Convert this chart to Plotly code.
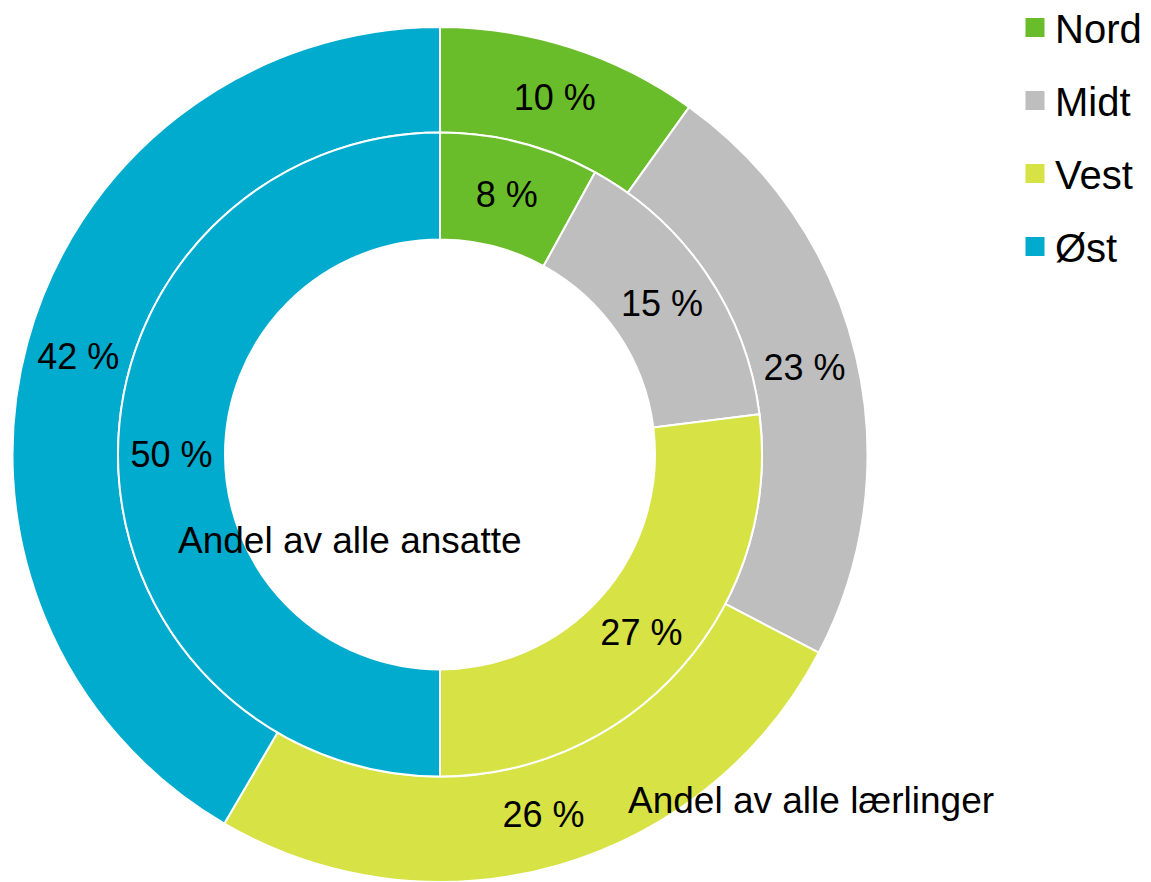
import plotly.graph_objects as go

# Regional shares, in percent
regions = ["Nord", "Midt", "Vest", "Øst"]
apprentices_pct = [10, 23, 26, 42]   # outer ring: share of all apprentices
employees_pct = [8, 15, 27, 50]      # inner ring: share of all employees

colors = ["#6ABD2A", "#BEBEBE", "#D7E244", "#00ABCE"]
font_family = "Liberation Sans, Arial, sans-serif"

W, H = 1151, 882
ML, MR, MT, MB = 12, 283, 27, 0
plot_w = W - ML - MR
plot_h = H - MT - MB

outer_r = min(plot_w, plot_h) / 2
inner_outer_r = 322
hole_r = 215
hx = inner_outer_r / plot_w
hy = inner_outer_r / plot_h

fig = go.Figure()

fig.add_trace(go.Pie(
    labels=regions,
    values=apprentices_pct,
    name="Andel av alle lærlinger",
    hole=inner_outer_r / outer_r,
    sort=False,
    direction="clockwise",
    rotation=0,
    marker=dict(colors=colors, line=dict(color="white", width=2)),
    texttemplate="%{value} %",
    textposition="inside",
    insidetextorientation="horizontal",
    textfont=dict(size=36, color="black", family=font_family),
    showlegend=False,
    domain=dict(x=[0, 1], y=[0, 1]),
    hoverinfo="label+value",
))

fig.add_trace(go.Pie(
    labels=regions,
    values=employees_pct,
    name="Andel av alle ansatte",
    hole=hole_r / inner_outer_r,
    sort=False,
    direction="clockwise",
    rotation=0,
    marker=dict(colors=colors, line=dict(color="white", width=2)),
    texttemplate="%{value} %",
    textposition="inside",
    insidetextorientation="horizontal",
    textfont=dict(size=36, color="black", family=font_family),
    showlegend=False,
    domain=dict(x=[0.5 - hx, 0.5 + hx], y=[0.5 - hy, 0.5 + hy]),
    hoverinfo="label+value",
))

# Legend entries, one group per region so the gap between entries can be set
for reg, col in zip(regions, colors):
    fig.add_trace(go.Scatter(
        x=[None], y=[None],
        mode="markers",
        name=reg,
        legendgroup=reg,
        marker=dict(symbol="square", size=16, color=col,
                    line=dict(color=col, width=3)),
        showlegend=True,
        hoverinfo="skip",
    ))

fig.add_annotation(
    text="Andel av alle ansatte",
    xref="paper", yref="paper",
    x=(350 - ML) / plot_w, y=1 - (540 - MT) / plot_h,
    xanchor="center", yanchor="middle",
    showarrow=False,
    font=dict(size=37, color="black", family=font_family),
)
fig.add_annotation(
    text="Andel av alle lærlinger",
    xref="paper", yref="paper",
    x=(811 - ML) / plot_w, y=1 - (800 - MT) / plot_h,
    xanchor="center", yanchor="middle",
    showarrow=False,
    font=dict(size=37, color="black", family=font_family),
)

fig.update_layout(
    width=W, height=H,
    margin=dict(l=ML, r=MR, t=MT, b=MB, autoexpand=False),
    paper_bgcolor="white",
    plot_bgcolor="white",
    font=dict(family=font_family, color="black"),
    uniformtext=dict(minsize=36, mode="show"),
    xaxis=dict(visible=False),
    yaxis=dict(visible=False),
    legend=dict(
        x=(1015 - ML) / plot_w, y=1 + (MT + 5) / plot_h,
        xanchor="left", yanchor="top",
        traceorder="grouped",
        tracegroupgap=18,
        font=dict(size=40, color="black", family=font_family),
        bgcolor="rgba(0,0,0,0)",
        itemsizing="trace",
    ),
)

fig.write_html("out.html")
